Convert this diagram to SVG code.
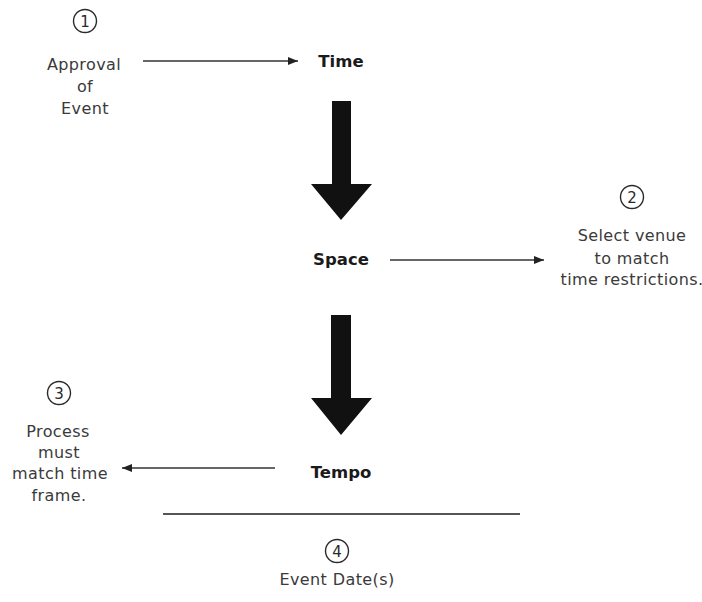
<svg xmlns="http://www.w3.org/2000/svg" width="702" height="602" viewBox="0 0 702 602">
<defs>
<style>
.t{font-family:"DejaVu Sans","Liberation Sans",sans-serif;font-size:16px;fill:#3a3a3a;text-anchor:middle;letter-spacing:0.4px}
.b{font-family:"DejaVu Sans","Liberation Sans",sans-serif;font-size:16.5px;font-weight:bold;fill:#1a1a1a;text-anchor:middle}
.n{font-family:"DejaVu Sans","Liberation Sans",sans-serif;font-size:15px;fill:#2a2a2a;text-anchor:middle}
.c{fill:none;stroke:#2a2a2a;stroke-width:1.4}
.l{stroke:#333;stroke-width:1.6;fill:none}
.big{fill:#111}
</style>
<marker id="ah" viewBox="0 0 10 8" refX="10" refY="4" markerWidth="10" markerHeight="8" markerUnits="userSpaceOnUse" orient="auto">
<path d="M0,0 L10,4 L0,8 Z" fill="#222"/>
</marker>
</defs>
<rect width="702" height="602" fill="#fff"/>
<g id="connectors">
<line class="l" x1="143" y1="61" x2="298" y2="61" marker-end="url(#ah)"/>
<line class="l" x1="390" y1="260" x2="544" y2="260" marker-end="url(#ah)"/>
<line class="l" x1="275" y1="468" x2="122" y2="468" marker-end="url(#ah)"/>
<path class="big" d="M332,101 H351 V184 H372 L341,220 L311,184 H332 Z"/>
<path class="big" d="M331,315 H351 V398 H372 L341,435 L311,398 H331 Z"/>
<line x1="163" y1="514" x2="520" y2="514" stroke="#555" stroke-width="2"/>
</g>
<g id="step1">
<circle class="c" cx="85" cy="21" r="11.5"/>
<text class="n" x="85" y="26.5">1</text>
<text class="t" x="84" y="70">Approval</text>
<text class="t" x="85" y="92">of</text>
<text class="t" x="85" y="114">Event</text>
</g>
<g id="time"><text class="b" x="341" y="67">Time</text></g>
<g id="space"><text class="b" x="341" y="265">Space</text></g>
<g id="tempo"><text class="b" x="341" y="478">Tempo</text></g>
<g id="step2">
<circle class="c" cx="632" cy="197" r="11.5"/>
<text class="n" x="632" y="202.5">2</text>
<text class="t" x="632" y="241">Select venue</text>
<text class="t" x="632" y="264">to match</text>
<text class="t" x="632" y="285">time restrictions.</text>
</g>
<g id="step3">
<circle class="c" cx="59" cy="393" r="11.5"/>
<text class="n" x="59" y="398.5">3</text>
<text class="t" x="58" y="437">Process</text>
<text class="t" x="59" y="458">must</text>
<text class="t" x="60" y="479">match time</text>
<text class="t" x="59" y="501">frame.</text>
</g>
<g id="step4">
<circle class="c" cx="337" cy="551" r="11.5"/>
<text class="n" x="337" y="556.5">4</text>
<text class="t" x="337" y="585">Event Date(s)</text>
</g>
</svg>
